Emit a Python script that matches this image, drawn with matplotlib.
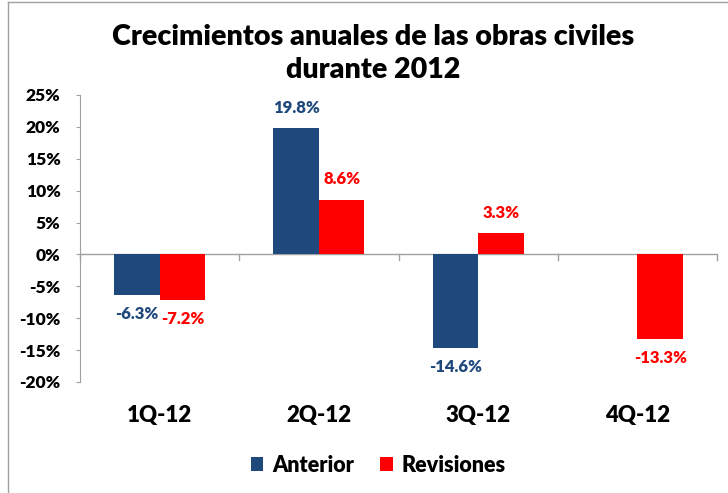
import matplotlib
matplotlib.use("Agg")
import matplotlib.pyplot as plt
import numpy as np
from matplotlib.lines import Line2D

categories = ["1Q-12", "2Q-12", "3Q-12", "4Q-12"]
anterior = [-6.3, 19.8, -14.6, np.nan]
revisiones = [-7.2, 8.6, 3.3, -13.3]
yticks = [-20, -15, -10, -5, 0, 5, 10, 15, 20, 25]

blue = "#1F497D"
red = "#FF0000"
font = "Lato"
W = "heavy"

plt.rcParams["font.family"] = [font, "DejaVu Sans"]

fig = plt.figure(figsize=(7.28, 4.93), dpi=100)
ax = fig.add_axes([80/728, 1-382/493, (717-80)/728, (382-95)/493])

x = np.arange(len(categories))
w = 0.286
b1 = ax.bar(x - w/2, anterior, w, color=blue, label="Anterior")
b2 = ax.bar(x + w/2, revisiones, w, color=red, label="Revisiones")

def label(bars, vals, color):
    for rect, v in zip(bars, vals):
        if np.isnan(v):
            continue
        cx = rect.get_x() + rect.get_width()/2
        if v >= 0:
            ax.annotate(f"{v:.1f}%", (cx, v), xytext=(0, 9), textcoords="offset points",
                        ha="center", va="bottom", color=color, fontsize=12, fontweight=W)
        else:
            ax.annotate(f"{v:.1f}%", (cx, v), xytext=(0, -8), textcoords="offset points",
                        ha="center", va="top", color=color, fontsize=12, fontweight=W)

label(b1, anterior, blue)
label(b2, revisiones, red)

ax.set_xlim(-0.5, len(categories) - 0.5)
ax.set_ylim(-20, 25)
ax.set_yticks(yticks)
ax.set_yticklabels([f"{t}%" for t in yticks], fontsize=12.5, fontweight=W)
for s in ["top", "right", "bottom"]:
    ax.spines[s].set_visible(False)
ax.spines["left"].set_color("#A0A0A0")
ax.tick_params(axis="y", length=3, color="#A0A0A0", pad=11)
ax.axhline(0, color="#A0A0A0", lw=1, zorder=0.5)
for xb in np.arange(-0.5, len(categories), 1.0):
    ax.plot([xb, xb], [0, -0.8], color="#A0A0A0", lw=1, clip_on=False)
ax.set_xticks([])
for xi, c in zip(x, categories):
    ax.text(xi, -25.3, c, ha="center", va="center", fontsize=16, fontweight=W,
            transform=ax.transData, clip_on=False)

fig.text(373/728, 1-37/493, "Crecimientos anuales de las obras civiles", ha="center", va="center",
         fontsize=20.6, fontweight=W)
fig.text(373/728, 1-70/493, "durante 2012", ha="center", va="center",
         fontsize=20.6, fontweight=W)

leg = fig.legend(handles=[b1, b2], labels=["Anterior", "Revisiones"], loc="center",
                 bbox_to_anchor=(378/728, 1-465/493), ncol=2, frameon=False,
                 prop={"family": font, "weight": W, "size": 15.5},
                 handlelength=0.6, handleheight=0.6, columnspacing=1.2, handletextpad=0.4)

fig.add_artist(Line2D([8/728, 8/728], [0, 1-2/493], transform=fig.transFigure, color="#A0A0A0", lw=1))
fig.add_artist(Line2D([8/728, 1], [1-2/493, 1-2/493], transform=fig.transFigure, color="#A0A0A0", lw=1))

fig.savefig("out.png", dpi=100)
